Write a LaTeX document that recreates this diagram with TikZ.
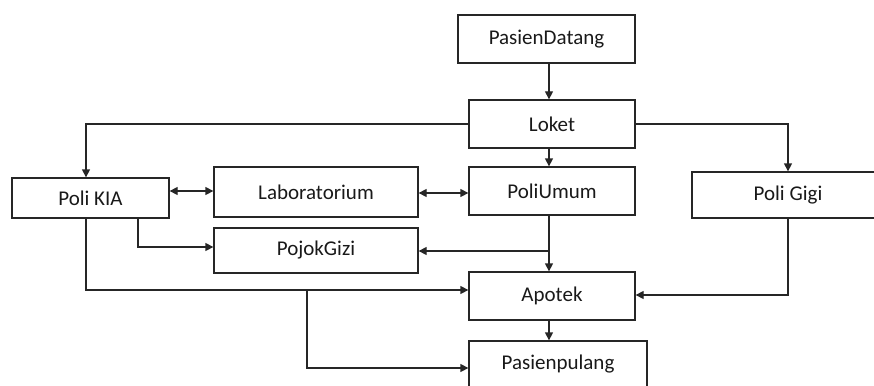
\documentclass[tikz,border=0pt]{standalone}
\usepackage{fontspec}
\setmainfont{Carlito}
\usetikzlibrary{arrows.meta}
\begin{document}
\begin{tikzpicture}[x=1pt,y=-1pt,
  box/.style={draw=black!85,line width=1.3pt,inner sep=0pt,font=\fontsize{21}{24}\selectfont,text=black!90},
  conn/.style={draw=black!85,line width=1.3pt},
  arr/.style={conn,-{Triangle[length=8pt,width=8pt]}},
  darr/.style={conn,{Triangle[length=8pt,width=8pt]}-{Triangle[length=8pt,width=8pt]}}]
\useasboundingbox (0,0) rectangle (874,385);
\node[box,minimum width=177pt,minimum height=48pt] (pd) at (546.5,39) {PasienDatang};
\node[box,minimum width=166pt,minimum height=48pt] (loket) at (552,124) {Loket};
\node[box,minimum width=166pt,minimum height=48pt] (umum) at (552,191) {PoliUmum};
\node[box,minimum width=192pt,minimum height=46pt] (gigi) at (788,195) {Poli Gigi};
\node[box,minimum width=166pt,minimum height=48pt] (apotek) at (552,296) {Apotek};
\node[box,minimum width=178pt,minimum height=46pt] (pulang) at (558,364) {Pasienpulang};
\node[box,minimum width=157pt,minimum height=40pt] (kia) at (90.5,198) {Poli KIA};
\node[box,minimum width=204pt,minimum height=50pt] (lab) at (316,192) {Laboratorium};
\node[box,minimum width=204pt,minimum height=45pt] (gizi) at (316,250.5) {PojokGizi};
\coordinate (sp) at (549,0);
\coordinate (kx) at (86,0);
\coordinate (kx2) at (138,0);
\coordinate (bx) at (307,0);
\coordinate (y1) at (0,191);
\coordinate (y2) at (0,193);
\coordinate (y3) at (0,247);
\coordinate (y4) at (0,251);
\coordinate (y5) at (0,290);
\coordinate (y6) at (0,368);
\coordinate (y7) at (0,295);
\draw[arr] (sp |- pd.south) -- (sp |- loket.north);
\draw[arr] (loket.west) -| (kx |- kia.north);
\draw[arr] (loket.east) -| (gigi.north);
\draw[arr] (sp |- loket.south) -- (sp |- umum.north);
\draw[darr] (kia.east |- y1) -- (lab.west |- y1);
\draw[darr] (lab.east |- y2) -- (umum.west |- y2);
\draw[arr] (kx2 |- kia.south) |- (gizi.west |- y3);
\draw[arr] (sp |- umum.south) -- (sp |- apotek.north);
\draw[arr] (sp |- y4) -- (gizi.east |- y4);
\draw[arr] (kx |- kia.south) |- (apotek.west |- y5);
\draw[arr] (bx |- y5) |- (pulang.west |- y6);
\draw[arr] (gigi.south) |- (apotek.east |- y7);
\draw[arr] (sp |- apotek.south) -- (sp |- pulang.north);
\end{tikzpicture}
\end{document}
